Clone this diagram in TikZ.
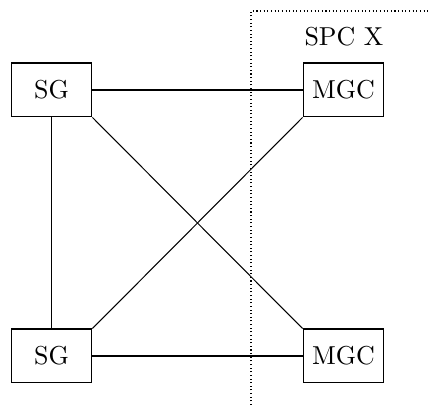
\documentclass[tikz,border=0pt]{standalone}
\begin{document}
\begin{tikzpicture}[x=0.3855pt,y=-0.3855pt,
  box/.style={draw,minimum width=31.2pt,minimum height=20.8pt,inner sep=0pt}]
\useasboundingbox (0,0) rectangle (428,405);
\node[box] (sg1) at (51.5,90) {SG};
\node[box] (mgc1) at (343.5,90) {MGC};
\node[box] (sg2) at (51.5,356) {SG};
\node[box] (mgc2) at (343.5,356) {MGC};
\coordinate (d1) at (251,405);
\coordinate (d2) at (251,11);
\coordinate (d3) at (428,11);
\draw[densely dotted] (d1) -- (d2) -- (d3);
\node (spc) at (344,37) {SPC X};
\draw (sg1) -- (mgc1);
\draw (sg2) -- (mgc2);
\draw (sg1) -- (sg2);
\draw (sg1.south east) -- (mgc2.north west);
\draw (mgc1.south west) -- (sg2.north east);
\end{tikzpicture}
\end{document}
